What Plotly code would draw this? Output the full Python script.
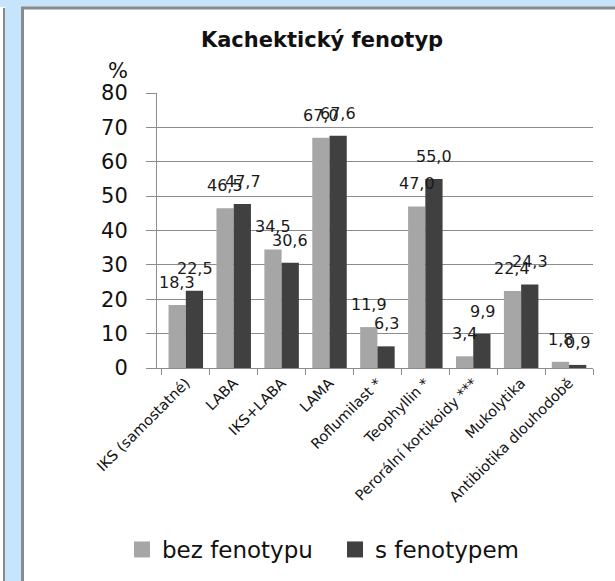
import plotly.graph_objects as go

categories = ["IKS (samostatné)", "LABA", "IKS+LABA", "LAMA", "Roflumilast *",
              "Teophyllin *", "Perorální kortikoidy ***", "Mukolytika",
              "Antibiotika dlouhodobě"]
bez_fenotypu = [18.3, 46.5, 34.5, 67.0, 11.9, 47.0, 3.4, 22.4, 1.8]
s_fenotypem = [22.5, 47.7, 30.6, 67.6, 6.3, 55.0, 9.9, 24.3, 0.9]
series_names = ["bez fenotypu", "s fenotypem"]
y_ticks = [0, 10, 20, 30, 40, 50, 60, 70, 80]

W, H = 615, 581
L, R, T, B = 157, 593, 93, 368
FONT = "DejaVu Sans"
COL_LIGHT = "#a6a6a6"
COL_DARK = "#404040"
GRID = "#8c8c8c"
BAR_HALF = 8.8  # half bar width in px, for label offsets


def px(x):
    return (x - L) / (R - L)


def py(y):
    return 1 - (y - T) / (B - T)


def fmt(v):
    return f"{v:.1f}".replace(".", ",")


fig = go.Figure()
annotations = []
for name, vals, col, sign in [(series_names[0], bez_fenotypu, COL_LIGHT, -1),
                              (series_names[1], s_fenotypem, COL_DARK, 1)]:
    fig.add_trace(go.Bar(
        x=categories, y=vals, name=name, marker=dict(color=col, line=dict(width=0)),
        showlegend=False, hoverinfo="x+y"))
    fig.add_trace(go.Scatter(
        x=[None], y=[None], mode="markers", name=name,
        marker=dict(symbol="square", size=16, color=col), showlegend=True))
    for c, v in zip(categories, vals):
        annotations.append(dict(
            x=c, y=v, xref="x", yref="y", text=fmt(v), showarrow=False,
            xanchor="center", yanchor="bottom", xshift=sign * BAR_HALF, yshift=11,
            font=dict(family=FONT, size=16, color="#1a1a1a")))

shapes = []
BLUE = "#c6e4fb"
EDGE = "#8a8a8a"
shapes.append(dict(type="rect", xref="paper", yref="paper", x0=px(0), x1=px(W),
                   y0=py(0), y1=py(7), fillcolor=BLUE, line=dict(width=0), layer="below"))
shapes.append(dict(type="rect", xref="paper", yref="paper", x0=px(5), x1=px(21),
                   y0=py(0), y1=py(H), fillcolor=BLUE, line=dict(width=0), layer="below"))
shapes.append(dict(type="line", xref="paper", yref="paper", x0=px(4), x1=px(4),
                   y0=py(8), y1=py(H), line=dict(color=EDGE, width=2), layer="below"))
shapes.append(dict(type="line", xref="paper", yref="paper", x0=px(22.5), x1=px(22.5),
                   y0=py(8), y1=py(H), line=dict(color=EDGE, width=3), layer="below"))
shapes.append(dict(type="line", xref="paper", yref="paper", x0=px(21), x1=px(W),
                   y0=py(8), y1=py(8), line=dict(color=EDGE, width=3), layer="below"))

annotations.append(dict(text="%", xref="paper", yref="paper", x=px(118), y=py(71),
                        xanchor="center", yanchor="middle", showarrow=False,
                        font=dict(family=FONT, size=21, color="#111111")))

fig.update_layout(
    width=W, height=H,
    margin=dict(l=L, r=W - R, t=T, b=H - B, autoexpand=False),
    paper_bgcolor="white", plot_bgcolor="white",
    barmode="group", bargap=0.28, bargroupgap=0,
    font=dict(family=FONT, color="#111111"),
    title=dict(text="<b>Kachektický fenotyp</b>", x=322 / W, xref="container",
               xanchor="center", y=1 - 40 / H, yref="container", yanchor="middle",
               font=dict(family=FONT, size=21, color="#111111")),
    shapes=shapes,
    annotations=annotations,
    legend=dict(orientation="h", x=px(122), xanchor="left", y=py(528), yanchor="top",
                font=dict(family=FONT, size=23, color="#111111"),
                entrywidth=168, entrywidthmode="pixels",
                bgcolor="rgba(0,0,0,0)", itemclick=False),
    xaxis=dict(type="category", tickangle=-45, tickson="boundaries", ticks="outside",
               ticklen=6, tickcolor=GRID, showline=True, linecolor=GRID, linewidth=1,
               tickfont=dict(family=FONT, size=14.5, color="#111111"), showgrid=False),
    yaxis=dict(range=[0, 80], tickvals=y_ticks, ticks="outside", ticklen=10,
               tickcolor=GRID, showline=True, linecolor=GRID, gridcolor=GRID,
               gridwidth=1, zeroline=False, ticklabelstandoff=14,
               tickfont=dict(family=FONT, size=21, color="#111111")),
)

fig.write_html("out.html", config={"displayModeBar": False},
               post_script="document.body.style.margin='0px';document.body.style.overflow='hidden';")
